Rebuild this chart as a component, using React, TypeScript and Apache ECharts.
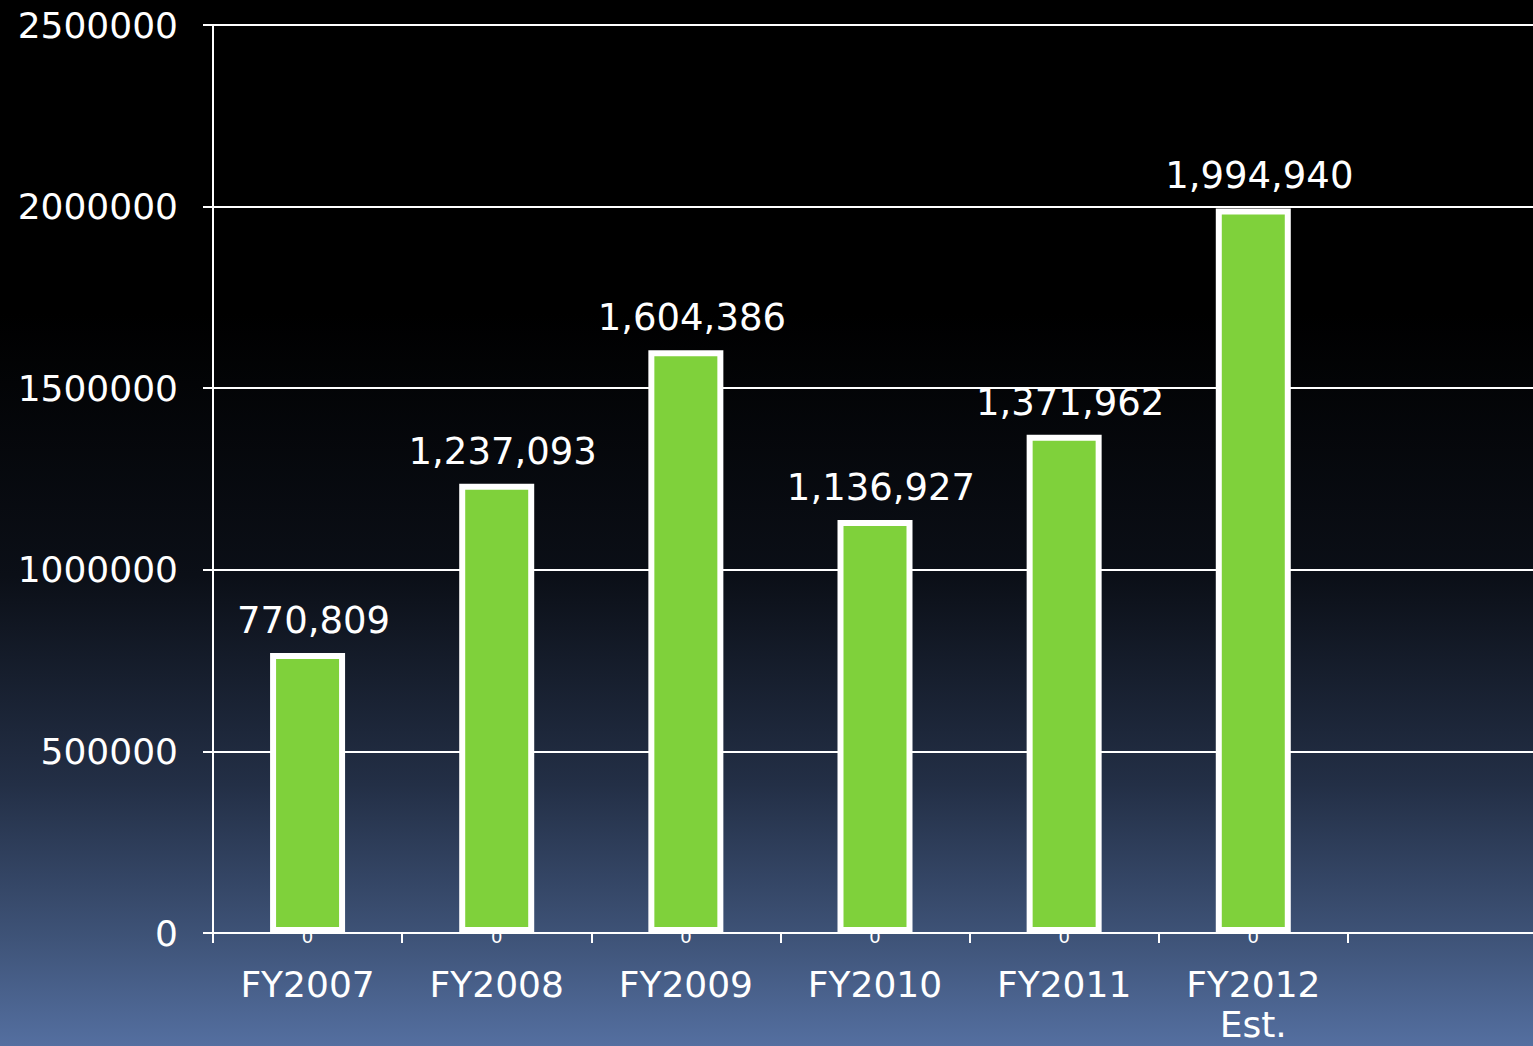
import React, { useEffect, useRef } from "react";
import * as echarts from "echarts";

const categories = ["FY2007", "FY2008", "FY2009", "FY2010", "FY2011", "FY2012\nEst.", ""];
const values = [770809, 1237093, 1604386, 1136927, 1371962, 1994940, null];
const zeroMarks = [0, 0, 0, 0, 0, 0, null];
const yTicks = { min: 0, max: 2500000, interval: 500000 };

const FONT = "'DejaVu Sans', 'Open Sans', sans-serif";

export default function App() {
  const ref = useRef<HTMLDivElement>(null);
  useEffect(() => {
    const chart = echarts.init(ref.current!, null, { renderer: "svg" });
    chart.setOption({
      animation: false,
      backgroundColor: {
        type: "linear",
        x: 0, y: 0, x2: 0, y2: 1,
        colorStops: [
          { offset: 0, color: "#000000" },
          { offset: 0.3, color: "#000000" },
          { offset: 0.55, color: "#0b0f17" },
          { offset: 0.75, color: "#232f46" },
          { offset: 0.9, color: "#3f5479" },
          { offset: 1, color: "#546fa0" },
        ],
      },
      grid: { left: 213, right: -4, top: 25, bottom: 113, outerBoundsMode: "none", containLabel: false },
      xAxis: {
        type: "category",
        data: categories,
        axisLine: { lineStyle: { color: "#ffffff", width: 2 } },
        axisTick: { show: true, length: 10, alignWithLabel: false, lineStyle: { color: "#ffffff", width: 2 } },
        axisLabel: {
          color: "#ffffff",
          fontSize: 36,
          fontFamily: FONT,
          margin: 31,
          lineHeight: 40,
          interval: 0,
        },
      },
      yAxis: {
        type: "value",
        min: yTicks.min,
        max: yTicks.max,
        interval: yTicks.interval,
        axisLine: { show: true, lineStyle: { color: "#ffffff", width: 2 } },
        axisTick: { show: true, length: 10, lineStyle: { color: "#ffffff", width: 2 } },
        splitLine: { lineStyle: { color: "#ffffff", width: 2 } },
        axisLabel: {
          color: "#ffffff",
          fontSize: 36,
          fontFamily: FONT,
          margin: 35,
          formatter: (v: number) => String(v),
        },
      },
      series: [
        {
          type: "bar",
          data: values,
          barWidth: 75,
          itemStyle: { color: "#7fd13b", borderColor: "#ffffff", borderWidth: 6 },
          label: {
            show: true,
            position: "top",
            distance: 14,
            offset: [6, 0],
            color: "#ffffff",
            fontSize: 37,
            fontFamily: FONT,
            formatter: (p: any) => Number(p.value).toLocaleString("en-US"),
          },
          z: 2,
        },
        {
          type: "bar",
          data: zeroMarks,
          barWidth: 75,
          barGap: "-100%",
          itemStyle: { color: "transparent" },
          label: {
            show: true,
            position: "inside",
            color: "#ffffff",
            fontSize: 18,
            fontFamily: FONT,
            formatter: "0",
            offset: [0, 3],
          },
          z: 3,
        },
      ],
    });
    return () => chart.dispose();
  }, []);
  return (
    <div
      ref={ref}
      style={{ position: "fixed", left: 0, top: 0, width: 1533, height: 1046 }}
    />
  );
}
